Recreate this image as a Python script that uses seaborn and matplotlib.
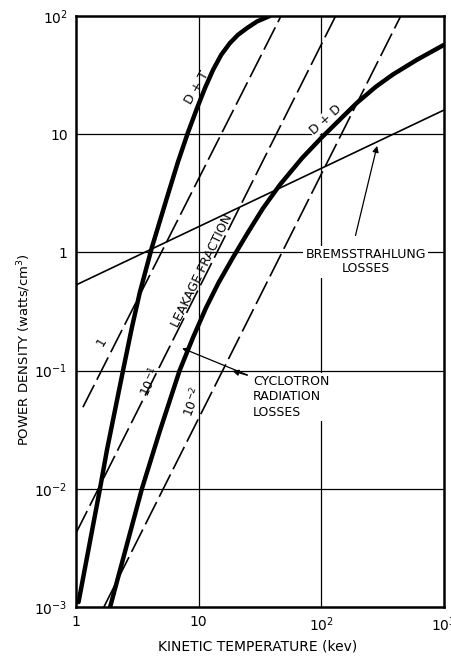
import numpy as np
import matplotlib
matplotlib.use("Agg")
import matplotlib.pyplot as plt
import seaborn as sns

# (kinetic temperature in keV, power density in W/cm^3)
dt_temp = [1.05, 1.57, 1.79, 2.42, 2.86, 3.32, 4.16, 5.52, 6.78, 8.18, 9.69,
           11.3, 13.1, 15.3, 18.0, 21.0, 24.8, 30.0, 38.0]
dt_power = [1.1e-3, 0.01, 0.0213, 0.1, 0.232, 0.46, 1.1, 2.9, 5.8, 10.3, 16.5,
            24.7, 34.9, 47, 59, 69.5, 79, 90, 100]

dd_temp = [1.9, 3.45, 4.84, 7.0, 9.0, 11.5, 14.5, 19, 25, 33.4, 46, 70, 100,
           195, 280, 384, 600, 1000]
dd_power = [1e-3, 0.01, 0.031, 0.1, 0.19, 0.34, 0.55, 0.9, 1.45, 2.35, 3.73, 6.3, 9.3,
            18.4, 25.3, 32, 42.5, 57]

brems_temp = [1, 1000]
brems_power = [0.53, 16.0]

# cyclotron losses for leakage fractions 1, 1e-1, 1e-2 (start / end points)
cyc1_temp = [1.14, 47]
cyc1_power = [0.049, 100]
cyc01_temp = [1.0, 131]
cyc01_power = [0.0042, 100]
cyc001_temp = [1.69, 445]
cyc001_power = [1e-3, 100]

x_ticks = [1, 10, 100, 1000]
x_labels = ['1', '10', '$10^2$', '$10^3$']
y_ticks = [1e-3, 1e-2, 1e-1, 1, 10, 100]
y_labels = ['$10^{-3}$', '$10^{-2}$', '$10^{-1}$', '1', '10', '$10^2$']

sns.set_style("white")
plt.rcParams['font.family'] = ['DejaVu Sans']
plt.rcParams['mathtext.default'] = 'regular'
plt.rcParams['text.color'] = 'black'
plt.rcParams['axes.labelcolor'] = 'black'
plt.rcParams['xtick.color'] = 'black'
plt.rcParams['ytick.color'] = 'black'

fig = plt.figure(figsize=(4.52, 6.57), dpi=100)
ax = fig.add_axes([0.168, 0.0761, 0.814, 0.8995])
ax.set(xscale='log', yscale='log')

# grid lines
for t in x_ticks[1:-1]:
    ax.axvline(t, color='black', lw=0.9, zorder=1)
for t in y_ticks[1:-1]:
    ax.axhline(t, color='black', lw=0.9, zorder=1)

dash = (0, (15, 3.5))
sns.lineplot(x=cyc1_temp, y=cyc1_power, ax=ax, color='black', lw=1.2, linestyle=dash, sort=False, zorder=2)
sns.lineplot(x=cyc01_temp, y=cyc01_power, ax=ax, color='black', lw=1.2, linestyle=dash, sort=False, zorder=2)
sns.lineplot(x=cyc001_temp, y=cyc001_power, ax=ax, color='black', lw=1.2, linestyle=dash, sort=False, zorder=2)
sns.lineplot(x=brems_temp, y=brems_power, ax=ax, color='black', lw=1.2, sort=False, zorder=3)
sns.lineplot(x=dt_temp, y=dt_power, ax=ax, color='black', lw=3.2, sort=False, zorder=4)
sns.lineplot(x=dd_temp, y=dd_power, ax=ax, color='black', lw=3.2, sort=False, zorder=4)

ax.set_xlim(1, 1000)
ax.set_ylim(1e-3, 100)
ax.set_xticks(x_ticks)
ax.set_xticklabels(x_labels)
ax.set_yticks(y_ticks)
ax.set_yticklabels(y_labels)
ax.minorticks_off()
ax.tick_params(length=0, labelsize=10, pad=6)
for s in ax.spines.values():
    s.set_linewidth(1.8)
    s.set_color('black')

ax.set_xlabel('KINETIC TEMPERATURE (kev)', fontsize=10)
ax.set_ylabel('POWER DENSITY (watts/cm$^3$)', fontsize=9.5)
ax.xaxis.set_label_coords(0.495, -0.055)
ax.yaxis.set_label_coords(-0.117, 0.435)

# curve labels
fs = 9
ax.text(9.7, 25, 'D + T', rotation=60, ha='center', va='center', fontsize=fs)
ax.text(108, 13.2, 'D + D', rotation=42, ha='center', va='center', fontsize=fs,
        bbox=dict(fc='white', ec='none', pad=0.5), zorder=3.5)
ax.text(10.6, 0.70, 'LEAKAGE FRACTION', rotation=64, ha='center', va='center', fontsize=fs)
ax.text(1.63, 0.175, '1', rotation=60, ha='center', va='center', fontsize=fs)
ax.text(4.0, 0.080, '$10^{-1}$', rotation=65, ha='center', va='center', fontsize=fs)
ax.text(9.0, 0.054, '$10^{-2}$', rotation=70, ha='center', va='center', fontsize=fs)

ax.text(231, 0.83, 'BREMSSTRAHLUNG\nLOSSES', ha='center', va='center', fontsize=fs,
        linespacing=1.1, bbox=dict(fc='white', ec='none', pad=1.5), zorder=5)
ax.annotate('', xy=(289, 8.4), xytext=(188, 1.32),
            arrowprops=dict(arrowstyle='-|>', color='black', lw=0.9, mutation_scale=9))

ax.text(27.7, 0.092, 'CYCLOTRON\nRADIATION\nLOSSES', ha='left', va='top', fontsize=fs,
        linespacing=1.25, bbox=dict(fc='white', ec='none', pad=1.5), zorder=5)
ax.annotate('', xy=(7.0, 0.158), xytext=(26.2, 0.090),
            arrowprops=dict(arrowstyle='-|>', color='black', lw=0.9, mutation_scale=9))
ax.annotate('', xy=(18.0, 0.101), xytext=(26.2, 0.090),
            arrowprops=dict(arrowstyle='-|>', color='black', lw=0.9, mutation_scale=9))

fig.savefig('out.png', dpi=100)
